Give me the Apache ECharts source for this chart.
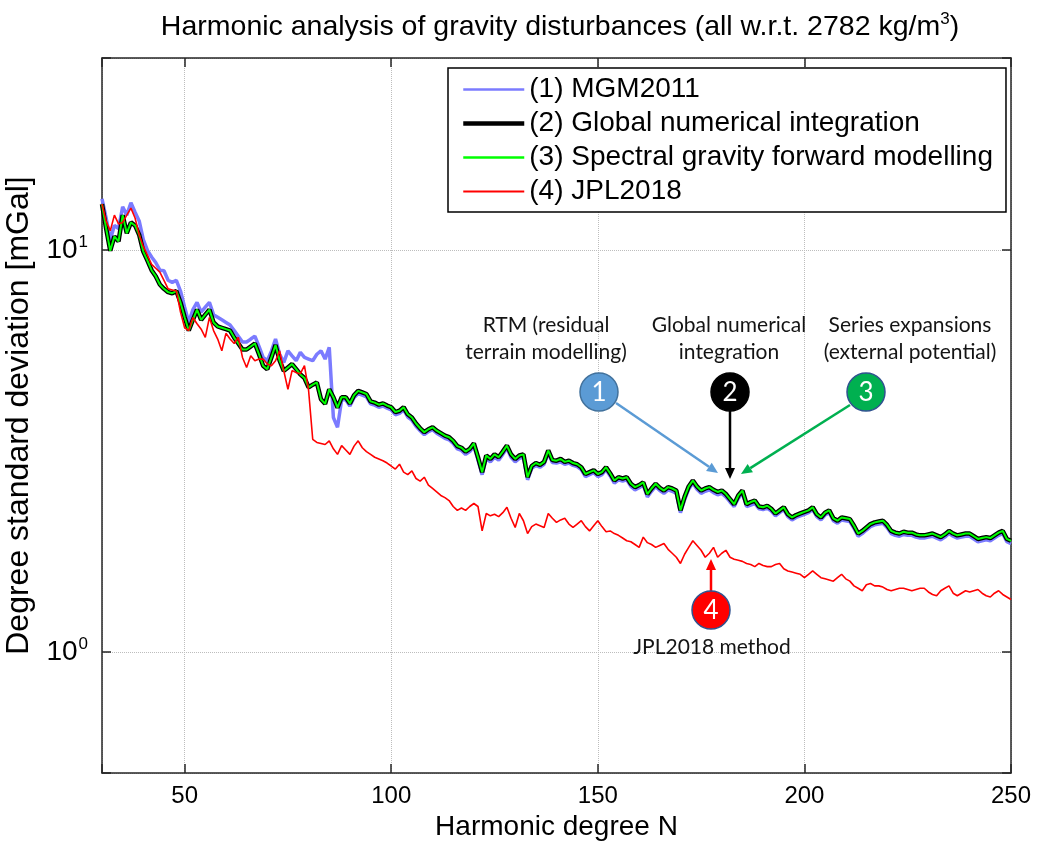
<!DOCTYPE html>
<html>
<head>
<meta charset="utf-8">
<title>Harmonic analysis of gravity disturbances</title>
<script src="https://cdn.jsdelivr.net/npm/echarts@6/dist/echarts.min.js"></script>
<style>
  html, body { margin: 0; padding: 0; background: #fff; }
  #chart { width: 1038px; height: 843px; }
</style>
</head>
<body>
<div id="chart"></div>
<script>
// harmonic degrees N = 30 ... 250
var degrees = [];
for (var n = 30; n <= 250; n++) degrees.push(n);

// degree standard deviations [mGal] (one value per degree)
var mgm2011 = [
  13.4, 12.0, 10.6, 11.5, 11.3, 12.8, 12.2, 13.1, 12.4, 11.8,
  10.6, 9.97, 9.6, 9.3, 8.9, 8.87, 8.4, 8.3, 8.4, 7.9,
  7.2, 6.6, 7.1, 7.4, 7.0, 7.2, 7.4, 6.9, 6.8, 6.7,
  6.6, 6.5, 6.3, 6.1, 5.9, 5.9, 6.0, 6.1, 5.75, 5.4,
  5.3, 5.6, 6.0, 5.5, 5.25, 5.61, 5.45, 5.3, 5.56, 5.4,
  5.35, 5.3, 5.5, 5.61, 5.35, 5.72, 3.83, 3.62, 4.24, 4.24,
  4.09, 4.29, 4.39, 4.35, 4.31, 4.14, 4.11, 4.06, 4.09, 4.04,
  4.0, 3.89, 3.92, 4.0, 3.84, 3.77, 3.64, 3.55, 3.47, 3.53,
  3.57, 3.5, 3.45, 3.4, 3.37, 3.3, 3.2, 3.17, 3.1, 3.15,
  3.25, 3.0, 2.76, 3.03, 2.97, 3.05, 3.0, 3.1, 3.21, 3.05,
  2.97, 3.03, 3.05, 2.68, 2.86, 2.91, 2.88, 2.93, 3.12, 2.96,
  2.95, 2.97, 2.93, 2.95, 2.91, 2.89, 2.84, 2.73, 2.76, 2.79,
  2.73, 2.76, 2.84, 2.74, 2.63, 2.68, 2.66, 2.68, 2.58, 2.53,
  2.56, 2.6, 2.43, 2.51, 2.58, 2.52, 2.48, 2.53, 2.51, 2.48,
  2.22, 2.39, 2.54, 2.63, 2.54, 2.48, 2.51, 2.53, 2.49, 2.46,
  2.48, 2.43, 2.36, 2.3, 2.41, 2.48, 2.3, 2.32, 2.34, 2.27,
  2.26, 2.28, 2.24, 2.18, 2.22, 2.26, 2.17, 2.13, 2.16, 2.18,
  2.2, 2.22, 2.26, 2.17, 2.13, 2.19, 2.22, 2.12, 2.09, 2.13,
  2.12, 2.11, 2.03, 1.94, 1.97, 2.01, 2.05, 2.07, 2.08, 2.09,
  2.04, 1.97, 1.95, 1.94, 1.96, 1.95, 1.95, 1.93, 1.92, 1.92,
  1.93, 1.94, 1.92, 1.9, 1.93, 1.97, 1.94, 1.92, 1.93, 1.94,
  1.94, 1.91, 1.88, 1.89, 1.9, 1.89, 1.92, 1.95, 1.97, 1.88,
  1.86
];
var globalIntegration = [
  13.0, 11.3, 9.95, 10.8, 10.5, 12.2, 11.0, 11.7, 11.5, 10.9,
  9.9, 9.4, 8.9, 8.6, 8.2, 8.0, 7.85, 7.8, 7.9, 7.4,
  6.8, 6.3, 6.7, 7.1, 6.7, 6.9, 7.1, 6.6, 6.45, 6.4,
  6.35, 6.3, 6.05, 5.85, 5.65, 5.65, 5.75, 5.85, 5.5, 5.15,
  5.05, 5.4, 5.8, 5.3, 5.0, 5.1, 5.2, 5.05, 4.9, 4.8,
  4.55, 4.62, 4.68, 4.25, 4.14, 4.5, 4.3, 4.05, 4.3, 4.3,
  4.15, 4.35, 4.46, 4.42, 4.38, 4.2, 4.17, 4.12, 4.15, 4.1,
  4.06, 3.95, 3.98, 4.06, 3.9, 3.83, 3.7, 3.6, 3.52, 3.58,
  3.62, 3.55, 3.5, 3.45, 3.42, 3.35, 3.25, 3.22, 3.15, 3.2,
  3.3, 3.05, 2.8, 3.08, 3.02, 3.1, 3.05, 3.15, 3.26, 3.1,
  3.02, 3.08, 3.1, 2.72, 2.9, 2.95, 2.92, 2.97, 3.17, 3.0,
  2.99, 3.02, 2.97, 2.99, 2.95, 2.93, 2.88, 2.77, 2.8, 2.83,
  2.77, 2.8, 2.88, 2.78, 2.67, 2.72, 2.7, 2.72, 2.62, 2.57,
  2.6, 2.64, 2.47, 2.55, 2.62, 2.56, 2.52, 2.57, 2.55, 2.52,
  2.25, 2.43, 2.58, 2.67, 2.58, 2.52, 2.55, 2.57, 2.53, 2.5,
  2.52, 2.47, 2.4, 2.33, 2.45, 2.52, 2.33, 2.36, 2.38, 2.3,
  2.29, 2.31, 2.27, 2.21, 2.25, 2.29, 2.2, 2.16, 2.19, 2.21,
  2.23, 2.25, 2.29, 2.2, 2.16, 2.22, 2.25, 2.15, 2.12, 2.16,
  2.15, 2.14, 2.06, 1.97, 2.0, 2.04, 2.08, 2.1, 2.11, 2.12,
  2.07, 2.0, 1.98, 1.97, 1.99, 1.98, 1.98, 1.96, 1.95, 1.95,
  1.96, 1.97, 1.95, 1.93, 1.96, 2.0, 1.97, 1.95, 1.96, 1.97,
  1.97, 1.94, 1.91, 1.92, 1.93, 1.92, 1.95, 1.98, 2.0, 1.91,
  1.89
];
var spectralForward = [
  13.0, 11.3, 9.95, 10.8, 10.5, 12.2, 11.0, 11.7, 11.5, 10.9,
  9.9, 9.4, 8.9, 8.6, 8.2, 8.0, 7.85, 7.8, 7.9, 7.4,
  6.8, 6.3, 6.7, 7.1, 6.7, 6.9, 7.1, 6.6, 6.45, 6.4,
  6.35, 6.3, 6.05, 5.85, 5.65, 5.65, 5.75, 5.85, 5.5, 5.15,
  5.05, 5.4, 5.8, 5.3, 5.0, 5.1, 5.2, 5.05, 4.9, 4.8,
  4.55, 4.62, 4.68, 4.25, 4.14, 4.5, 4.3, 4.05, 4.3, 4.3,
  4.15, 4.35, 4.46, 4.42, 4.38, 4.2, 4.17, 4.12, 4.15, 4.1,
  4.06, 3.95, 3.98, 4.06, 3.9, 3.83, 3.7, 3.6, 3.52, 3.58,
  3.62, 3.55, 3.5, 3.45, 3.42, 3.35, 3.25, 3.22, 3.15, 3.2,
  3.3, 3.05, 2.8, 3.08, 3.02, 3.1, 3.05, 3.15, 3.26, 3.1,
  3.02, 3.08, 3.1, 2.72, 2.9, 2.95, 2.92, 2.97, 3.17, 3.0,
  2.99, 3.02, 2.97, 2.99, 2.95, 2.93, 2.88, 2.77, 2.8, 2.83,
  2.77, 2.8, 2.88, 2.78, 2.67, 2.72, 2.7, 2.72, 2.62, 2.57,
  2.6, 2.64, 2.47, 2.55, 2.62, 2.56, 2.52, 2.57, 2.55, 2.52,
  2.25, 2.43, 2.58, 2.67, 2.58, 2.52, 2.55, 2.57, 2.53, 2.5,
  2.52, 2.47, 2.4, 2.33, 2.45, 2.52, 2.33, 2.36, 2.38, 2.3,
  2.29, 2.31, 2.27, 2.21, 2.25, 2.29, 2.2, 2.16, 2.19, 2.21,
  2.23, 2.25, 2.29, 2.2, 2.16, 2.22, 2.25, 2.15, 2.12, 2.16,
  2.15, 2.14, 2.06, 1.97, 2.0, 2.04, 2.08, 2.1, 2.11, 2.12,
  2.07, 2.0, 1.98, 1.97, 1.99, 1.98, 1.98, 1.96, 1.95, 1.95,
  1.96, 1.97, 1.95, 1.93, 1.96, 2.0, 1.97, 1.95, 1.96, 1.97,
  1.97, 1.94, 1.91, 1.92, 1.93, 1.92, 1.95, 1.98, 2.0, 1.91,
  1.89
];
var jpl2018 = [
  13.0, 11.8, 11.15, 12.2, 11.6, 11.7, 12.2, 12.7, 12.0, 10.9,
  10.2, 9.7, 9.2, 9.0, 8.8, 8.4, 8.0, 7.95, 7.9, 7.0,
  6.4, 6.3, 6.79, 6.55, 6.35, 6.06, 6.79, 6.3, 6.0, 5.61,
  6.2, 6.0, 5.85, 6.06, 5.4, 5.1, 5.45, 5.3, 5.35, 5.35,
  5.2, 5.15, 5.3, 5.61, 5.0, 4.5, 5.01, 4.95, 4.92, 5.15,
  4.47, 3.38, 3.32, 3.3, 3.28, 3.35, 3.2, 3.1, 3.26, 3.18,
  3.1, 3.25, 3.35, 3.22, 3.15, 3.1, 3.05, 3.02, 2.99, 2.95,
  2.9, 2.85, 2.93, 2.8, 2.76, 2.82, 2.7, 2.66, 2.72, 2.6,
  2.55, 2.5, 2.45, 2.42, 2.38, 2.3, 2.25, 2.28, 2.25, 2.3,
  2.34, 2.3, 2.0, 2.21, 2.18, 2.2, 2.17, 2.22, 2.29, 2.15,
  2.04, 2.21, 2.12, 1.97, 2.05, 2.08, 2.06, 2.04, 2.21, 2.15,
  2.1, 2.13, 2.15, 2.08, 2.04, 2.08, 2.12, 2.05, 2.0, 2.06,
  2.12, 2.05, 1.99, 2.0, 1.97, 1.95, 1.92, 1.89, 1.88, 1.85,
  1.82, 1.93, 1.87, 1.85, 1.82, 1.84, 1.86, 1.8, 1.76, 1.72,
  1.66, 1.75, 1.82, 1.89, 1.84, 1.79, 1.72, 1.76, 1.82, 1.72,
  1.76, 1.79, 1.72, 1.7, 1.69, 1.68, 1.66, 1.65, 1.63, 1.66,
  1.64, 1.63, 1.63, 1.65, 1.66, 1.61, 1.59, 1.58, 1.57, 1.56,
  1.53, 1.56, 1.59, 1.56, 1.53, 1.52, 1.51, 1.5, 1.53, 1.56,
  1.52, 1.5, 1.46, 1.44, 1.42, 1.47, 1.48, 1.46, 1.46, 1.45,
  1.43, 1.42, 1.43, 1.44, 1.44, 1.43, 1.42, 1.43, 1.44, 1.44,
  1.41, 1.39, 1.38, 1.42, 1.44, 1.46, 1.4, 1.38, 1.4, 1.42,
  1.41, 1.42, 1.43, 1.4, 1.38, 1.37, 1.4, 1.42, 1.39, 1.37,
  1.35
];

var seriesNames = [
  '(1) MGM2011',
  '(2) Global numerical integration',
  '(3) Spectral gravity forward modelling',
  '(4) JPL2018'
];
var seriesColors = ['#7b7bff', '#000000', '#00ff00', '#ff0000'];

var FONT = '"Liberation Sans", Arial, Helvetica, sans-serif';
var NOTE_FONT = 'Lato, "Open Sans", sans-serif';

function toPairs(vals) {
  return vals.map(function (v, i) { return [degrees[i], v]; });
}

function lineSeries(name, vals, color, width) {
  return {
    name: name,
    type: 'line',
    data: toPairs(vals),
    symbol: 'none',
    showSymbol: false,
    animation: false,
    lineStyle: { color: color, width: width },
    itemStyle: { color: color },
    emphasis: { disabled: true },
    z: 3
  };
}

// arrow: shaft + filled head
function arrow(x1, y1, x2, y2, color) {
  var ang = Math.atan2(y2 - y1, x2 - x1);
  var hl = 11, hw = 5;
  var bx = x2 - hl * Math.cos(ang), by = y2 - hl * Math.sin(ang);
  var px = -Math.sin(ang) * hw, py = Math.cos(ang) * hw;
  return [
    { type: 'line', silent: true, z: 20,
      shape: { x1: x1, y1: y1, x2: bx, y2: by },
      style: { stroke: color, lineWidth: 2.5 } },
    { type: 'polygon', silent: true, z: 20,
      shape: { points: [[x2, y2], [bx + px, by + py], [bx - px, by - py]] },
      style: { fill: color } }
  ];
}

function badge(cx, cy, label, fill, stroke) {
  return [
    { type: 'circle', silent: true, z: 21,
      shape: { cx: cx, cy: cy, r: 19 },
      style: { fill: fill, stroke: stroke, lineWidth: 1.5 } },
    { type: 'text', silent: true, z: 22, x: cx, y: cy + 1,
      style: { text: label, fill: '#fff', font: '26px ' + NOTE_FONT, align: 'center', verticalAlign: 'middle' } }
  ];
}

function note(cx, cy, txt) {
  return { type: 'text', silent: true, z: 22, x: cx, y: cy,
    style: { text: txt, fill: '#141414', font: '21px ' + NOTE_FONT, lineHeight: 27,
      align: 'center', verticalAlign: 'middle' } };
}

var graphics = [
  { type: 'text', silent: true, x: 560, y: 27,
    style: {
      text: 'Harmonic analysis of gravity disturbances (all w.r.t. 2782 kg/m{sup|3})',
      fill: '#000', fontSize: 28.5, fontFamily: FONT,
      align: 'center', verticalAlign: 'middle',
      rich: { sup: { fontSize: 17, fontFamily: FONT, fill: '#000', padding: [0, 0, 15, 0] } }
    } },
  note(546, 339, 'RTM (residual\nterrain modelling)'),
  note(729, 339, 'Global numerical\nintegration'),
  note(910, 339, 'Series expansions\n(external potential)'),
  note(712, 647, 'JPL2018 method')
]
  .concat(arrow(616, 403, 718, 473, '#5b9bd5'))
  .concat(arrow(730, 411, 730, 479, '#000000'))
  .concat(arrow(850, 405, 741, 474, '#00b050'))
  .concat(arrow(711, 591, 711, 559, '#ff0000'))
  .concat(badge(599, 392, '1', '#5b9bd5', '#41719c'))
  .concat(badge(730, 392, '2', '#000000', '#000000'))
  .concat(badge(866, 392, '3', '#00b050', '#2f528f'))
  .concat(badge(711, 610, '4', '#ff0000', '#2f528f'));

var axisLineStyle = { color: '#262626', width: 1.5 };
var gridLineStyle = { color: '#bdbdbd', type: 'dotted', width: 1 };
var legendWidths = [2.5, 4.5, 2.5, 2];

var option = {
  animation: false,
  backgroundColor: '#ffffff',
  textStyle: { fontFamily: FONT },
  grid: {
    left: 102, right: 27, top: 58, bottom: 70,
    containLabel: false, outerBoundsMode: 'none',
    show: false
  },
  legend: {
    left: 448, top: 68,
    orient: 'vertical',
    itemWidth: 61, itemHeight: 14, itemGap: 3,
    padding: [6, 13, 5, 13],
    backgroundColor: '#ffffff',
    borderColor: '#000000', borderWidth: 1.5, borderRadius: 0,
    selectedMode: false,
    itemStyle: { opacity: 0 },
    textStyle: { fontSize: 28, fontFamily: FONT, color: '#000', lineHeight: 31 },
    data: seriesNames.map(function (nm, i) {
      return { name: nm, lineStyle: { color: seriesColors[i], width: legendWidths[i] } };
    })
  },
  xAxis: [{
    type: 'value', min: 30, max: 250,
    name: 'Harmonic degree N', nameLocation: 'middle', nameGap: 36,
    nameTextStyle: { fontSize: 28, color: '#000', fontFamily: FONT },
    axisLine: { show: true, onZero: false, lineStyle: axisLineStyle },
    axisTick: { show: true, inside: true, length: 9, lineStyle: axisLineStyle },
    axisLabel: {
      margin: 11, fontSize: 24, color: '#000', fontFamily: FONT,
      formatter: function (v) { return v % 50 === 0 ? String(v) : ''; }
    },
    splitLine: { show: true, lineStyle: gridLineStyle }
  }, {
    type: 'value', min: 30, max: 250, position: 'top',
    axisLine: { show: true, onZero: false, lineStyle: axisLineStyle },
    axisTick: { show: true, inside: true, length: 9, lineStyle: axisLineStyle },
    axisLabel: { show: false },
    splitLine: { show: false }
  }],
  yAxis: [{
    type: 'log', logBase: 10, min: 0.5, max: 30,
    name: 'Degree standard deviation [mGal]', nameLocation: 'middle', nameGap: 60,
    nameTextStyle: { fontSize: 32, color: '#000', fontFamily: FONT },
    axisLine: { show: true, onZero: false, lineStyle: axisLineStyle },
    axisTick: { show: true, inside: true, length: 9, lineStyle: axisLineStyle },
    axisLabel: {
      margin: 14, color: '#000', fontFamily: FONT,
      formatter: function (v) {
        if (Math.abs(v - 10) < 1e-6) return '{b|10}{s|1}';
        if (Math.abs(v - 1) < 1e-6) return '{b|10}{s|0}';
        return '';
      },
      rich: {
        b: { fontSize: 28, fontFamily: FONT, color: '#000' },
        s: { fontSize: 17, fontFamily: FONT, color: '#000', padding: [0, 0, 16, 1] }
      }
    },
    splitLine: { show: true, lineStyle: gridLineStyle }
  }, {
    type: 'log', logBase: 10, min: 0.5, max: 30, position: 'right',
    axisLine: { show: true, onZero: false, lineStyle: axisLineStyle },
    axisTick: { show: true, inside: true, length: 9, lineStyle: axisLineStyle },
    axisLabel: { show: false },
    splitLine: { show: false }
  }],
  series: [
    lineSeries(seriesNames[0], mgm2011, seriesColors[0], 3.5),
    lineSeries(seriesNames[1], globalIntegration, seriesColors[1], 4.5),
    lineSeries(seriesNames[2], spectralForward, seriesColors[2], 2),
    lineSeries(seriesNames[3], jpl2018, seriesColors[3], 1.6)
  ],
  graphic: graphics
};

var chart = echarts.init(document.getElementById('chart'), null, { renderer: 'canvas' });
chart.setOption(option);
</script>
</body>
</html>
